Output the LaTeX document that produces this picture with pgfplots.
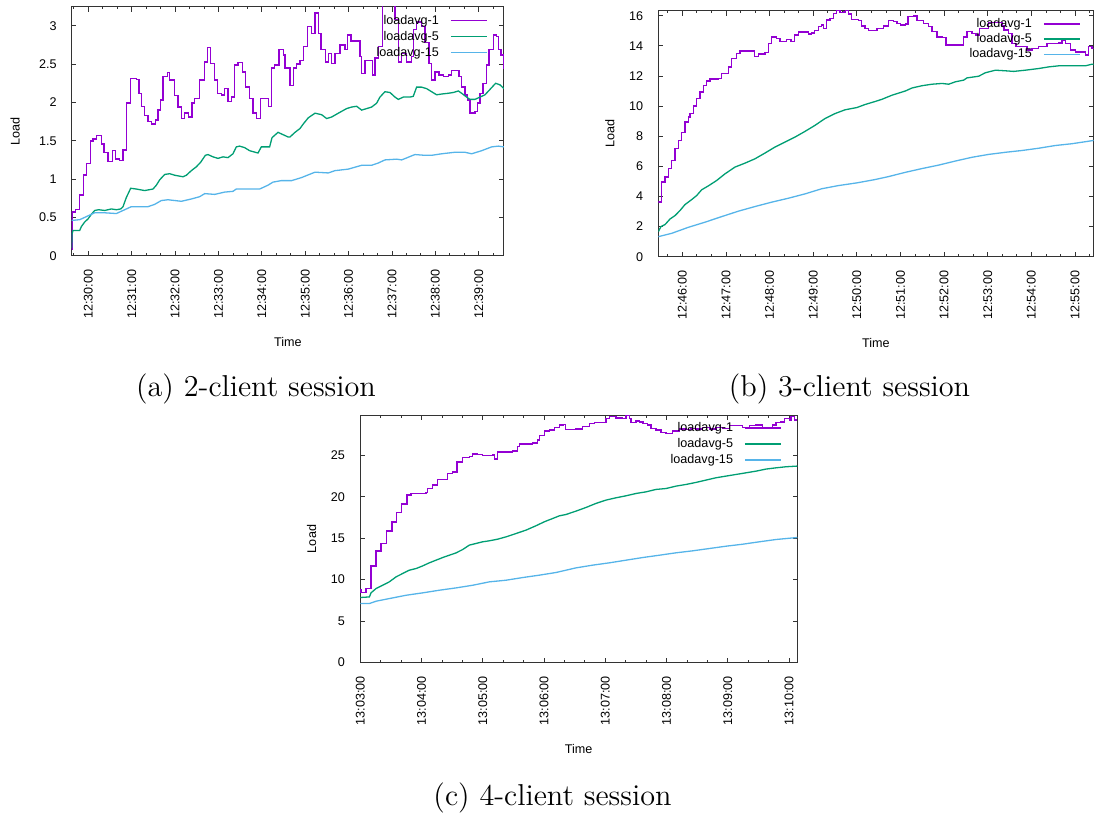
\documentclass[border=0pt]{standalone}
\usepackage{fontspec}
\usepackage{pgfplots}
\pgfplotsset{compat=1.18}
\newfontfamily\gpfam{Liberation Sans}
\newcommand\gpf{\gpfam\fontsize{6.3}{7.5}\selectfont}
\definecolor{gpPurple}{HTML}{9400D3}
\definecolor{gpGreen}{HTML}{009E73}
\definecolor{gpBlue}{HTML}{56B4E9}
\pgfplotsset{
  gp/.style={
    scale only axis,
    axis line style={black!80, line width=0.5pt},
    tick align=inside,
    major tick length=2.3pt,
    minor tick length=1.2pt,
    every tick/.style={black!80, line width=0.4pt},
    tick label style={font=\gpf, text=black},
    /pgf/number format/assume math mode=true,
    xticklabel style={yshift=-3.5pt, rotate=90, anchor=east},
    yticklabel style={xshift=-4pt},
    every axis x label/.style={at={(axis description cs:0.5,0)}, yshift=-43.3pt, anchor=center, font=\gpf},
    xlabel={Time}, ylabel={Load},
    ymin=0,
    legend plot pos=right,
    legend cell align=right,
    legend style={draw=none, fill=none, anchor=north east, font=\gpf,
      nodes={inner sep=0.8pt, text height=4.8pt, text depth=1.4pt},
      row sep=0.2pt, column sep=4.8pt},
    legend image code/.code={\draw[#1] (0pt,0pt) -- (18pt,0pt);},
    p1/.style={gpPurple, line width=0.75pt, const plot, mark=none},
    p5/.style={gpGreen, line width=0.65pt, mark=none},
    p15/.style={gpBlue, line width=0.65pt, mark=none},
  },
  ylab/.style={every axis y label/.style={at={(axis description cs:0,0.5)}, xshift=-#1, rotate=90, anchor=center, font=\gpf}},
}
\begin{document}
\begin{tikzpicture}
\useasboundingbox (0,0) rectangle (547pt,406.5pt);
% ---------------- (a) ----------------
\begin{axis}[gp, ylab=28.3pt,
  at={(35.85pt,278.65pt)}, anchor=south west,
  width=216.15pt, height=124.35pt,
  xmin=-23, xmax=575, ymax=3.246,
  xtick={0,60,...,540},
  xticklabels={12:30:00,12:31:00,12:32:00,12:33:00,12:34:00,12:35:00,12:36:00,12:37:00,12:38:00,12:39:00},
  minor xtick={-20,20,40,80,100,140,160,200,220,260,280,320,340,380,400,440,460,500,520,560},
  ytick={0,0.5,...,3},
  yticklabels={0,0.5,1,1.5,2,2.5,3},
  legend style={at={(0.977,0.994)}},
]
\addplot[p1] coordinates {
(-23,0.08)(-22.5,0.57)(-17.9,0.60)(-11.9,0.79)(-6.4,1.05)(-2.3,1.20)(3.3,1.50)(6.5,1.52)(11.1,1.57)(18,1.46)
(21.7,1.35)(27.2,1.23)(33.2,1.37)(37.8,1.26)(43.4,1.24)(48,1.38)(52.6,1.99)(58.6,2.31)(66.4,2.30)(70.1,2.12)
(73.4,1.95)(77.9,1.83)(82.6,1.75)(87.2,1.72)(92.7,1.77)(96.4,1.90)(100.1,2.03)(103.3,2.34)(109.3,2.39)(112.5,2.29)
(119.5,2.09)(124,1.94)(128.7,1.79)(133.3,1.86)(138.8,1.81)(143.4,1.99)(147.1,2.05)(154,2.29)(161,2.53)(164.6,2.72)
(169.2,2.51)(174.8,2.29)(178.5,2.12)(184,2.10)(188.6,2.18)(193.2,2.01)(197.8,2.07)(202.4,2.49)(207,2.52)(213,2.40)
(217.6,2.20)(223.2,2.05)(227.8,1.86)(232.4,1.79)(237.9,2.05)(249,1.95)(253.7,2.45)(257.8,2.49)(263.8,2.69)(269.7,2.62)
(272,2.45)(279,2.22)(283.5,2.45)(288.2,2.50)(292.8,2.55)(297.4,2.73)(302.9,2.99)(308.9,2.90)(313.6,3.17)(318.1,2.90)
(321.9,2.69)(328.3,2.53)(332,2.64)(336.6,2.51)(341.2,2.64)(348.2,2.75)(355.1,2.69)(358.3,2.88)(363.3,2.80)(369.8,2.80)
(375.8,2.60)(378.1,2.38)(382.7,2.55)(392.9,2.36)(396.6,2.58)(401.2,2.73)(406.7,3.40)(424.2,3.08)(428.8,2.53)(433.4,2.64)
(440.3,2.53)(447.2,2.60)(450,2.95)(454.1,3.05)(461,2.99)(465.6,2.78)(471.2,2.51)(474.8,2.29)(479.4,2.40)(485,2.36)
(491,2.34)(497.9,2.36)(502.4,2.42)(508,2.42)(512.7,2.34)(516.3,2.20)(521,2.10)(524.6,2.03)(527.9,1.86)(534.8,1.88)
(538.5,1.99)(541.7,2.12)(546.3,2.25)(550.9,2.49)(554.2,2.69)(560.2,2.88)(564.8,2.86)(567.1,2.69)(570.8,2.62)(574,2.45)(575,2.45)
};
\addlegendentry{loadavg-1}
\addplot[p5] coordinates {
(-23,0.10)(-22.5,0.28)(-21.2,0.33)(-11.9,0.33)(-9.6,0.38)(-5,0.44)(-0.4,0.48)(4.2,0.54)(8.8,0.59)(14.3,0.60)
(22.6,0.59)(31.9,0.61)(38.8,0.60)(44.8,0.61)(48,0.64)(52.6,0.76)(58.6,0.88)(66.4,0.87)(77.9,0.85)(89.5,0.87)
(94.1,0.92)(98.7,0.99)(105.6,1.06)(112.5,1.07)(119.5,1.05)(131,1.03)(135.6,1.05)(142.5,1.11)(149.4,1.16)(155.4,1.22)
(161.9,1.31)(165.5,1.32)(172.5,1.29)(179.4,1.27)(186.3,1.29)(193.2,1.28)(200.1,1.33)(204.7,1.42)(209.3,1.43)(216.3,1.41)
(223.2,1.37)(234.7,1.34)(239.3,1.42)(250.8,1.42)(254.1,1.54)(262.4,1.61)(269.3,1.58)(276.2,1.55)(279,1.55)(285.9,1.61)
(292.8,1.66)(297.4,1.72)(304.3,1.80)(313.6,1.86)(322.8,1.84)(329.7,1.79)(336.6,1.81)(345.8,1.86)(357.3,1.92)(364.2,1.94)
(371.2,1.95)(378.1,1.90)(385,1.92)(391.9,1.94)(398.8,1.99)(403.4,2.07)(410.3,2.14)(417.3,2.13)(424.2,2.07)(428.8,2.04)
(435.7,2.07)(444.9,2.07)(449.5,2.08)(454.1,2.20)(461,2.20)(468,2.18)(474.9,2.14)(481.8,2.10)(488.7,2.11)(497.9,2.12)
(504.9,2.13)(511.8,2.15)(516.4,2.12)(523.3,2.07)(527.9,2.04)(534.8,2.04)(541.8,2.07)(548.7,2.10)(555.6,2.17)(563.4,2.25)
(569.4,2.23)(575,2.18)
};
\addlegendentry{loadavg-5}
\addplot[p15] coordinates {
(-23,0.46)(-11.9,0.47)(-5,0.50)(4.2,0.54)(8.8,0.56)(22.6,0.56)(38.8,0.55)(45.7,0.58)(52.6,0.61)(59.5,0.64)
(68.7,0.64)(82.6,0.64)(91.8,0.67)(101,0.72)(110.2,0.73)(128.7,0.71)(142.5,0.74)(154,0.77)(161,0.81)(174.8,0.80)
(188.6,0.83)(200.1,0.84)(204.7,0.87)(220.8,0.87)(237,0.87)(248.5,0.92)(255.4,0.96)(267,0.98)(281.3,0.98)(295.1,1.02)
(313.6,1.09)(332,1.08)(341.2,1.11)(359.7,1.13)(378.1,1.18)(391.9,1.18)(401.2,1.21)(410.3,1.25)(426.5,1.26)(433.4,1.25)
(451.8,1.32)(465.6,1.31)(474.8,1.31)(488.7,1.33)(507.1,1.35)(521,1.35)(530.2,1.33)(544,1.37)(557.9,1.42)(567.1,1.43)(575,1.42)
};
\addlegendentry{loadavg-15}
\end{axis}
% ---------------- (b) ----------------
\begin{axis}[gp, ylab=24.2pt,
  at={(329.15pt,278.15pt)}, anchor=south west,
  width=217.6pt, height=122.85pt,
  xmin=-33, xmax=565.4, ymax=16.31,
  xtick={0,60,...,540},
  xticklabels={12:46:00,12:47:00,12:48:00,12:49:00,12:50:00,12:51:00,12:52:00,12:53:00,12:54:00,12:55:00},
  minor xtick={-20,20,40,80,100,140,160,200,220,260,280,320,340,380,400,440,460,500,520,560},
  ytick={0,2,...,16},
  legend style={at={(0.985,0.997)}, row sep=-0.2pt},
]
\addplot[p1] coordinates {
(-33,3.62)(-28.4,4.95)(-23.8,5.28)(-19.2,5.84)(-14.6,6.39)(-10,7.17)(-5.5,7.72)(-0.9,8.23)(3.7,8.94)(8.3,9.28)
(10.6,9.50)(15.2,9.99)(19.8,10.50)(24.3,10.94)(28.9,11.38)(33.5,11.67)(38.1,11.78)(49.6,11.83)(54.1,12.16)(63.3,12.60)
(67.9,13.16)(74.8,13.49)(79.3,13.65)(99,13.30)(104.6,13.45)(113.7,13.56)(118.3,14.16)(122.9,14.60)(129.8,14.50)(134.3,14.27)
(143.5,14.43)(149.5,14.27)(154.1,14.70)(159.6,14.90)(173.3,14.78)(177.9,14.85)(181.6,15.00)(187.1,15.27)(191.7,15.38)(194,15.16)
(198.5,15.71)(203.1,15.82)(207.7,16.16)(212.3,16.38)(216.8,16.20)(221.4,16.25)(224.6,16.38)(228.3,16.11)(232.9,15.76)(242,15.67)
(246.7,15.30)(251.2,15.16)(255.8,15.00)(267.7,15.16)(276.9,15.31)(283.8,15.67)(290.7,15.60)(295.2,15.49)(299.8,15.38)(306.7,15.45)
(310.4,15.93)(318.2,15.98)(322.8,15.67)(331.9,15.49)(338.8,15.27)(343.4,14.94)(350.2,14.60)(357.1,14.55)(362.6,14.05)(386.9,14.60)
(391.5,14.94)(398.4,14.82)(403.9,14.71)(408.5,15.16)(421.3,15.53)(439.7,15.30)(442,15.05)(448.8,14.82)(453.4,14.16)(458.9,13.94)
(474,13.72)(480.9,13.83)(490,13.94)(501.5,14.16)(517.5,14.20)(522.1,14.38)(526.7,14.16)(533.6,13.72)(540.5,13.60)(554.2,13.38)
(558.8,13.94)(563.4,13.83)(566,13.83)
};
\addlegendentry{loadavg-1}
\addplot[p5] coordinates {
(-33,1.66)(-29.3,2.00)(-23.8,2.13)(-16.9,2.50)(-10,2.73)(-3.2,3.06)(3.7,3.46)(12.9,3.79)(19.8,4.06)(26.6,4.44)
(35.8,4.70)(47.3,5.06)(58.7,5.50)(72.5,5.95)(86.2,6.21)(100,6.50)(113.7,6.88)(127.5,7.28)(141.2,7.61)(155,7.94)
(168.8,8.32)(182.5,8.72)(196.2,9.17)(210,9.50)(223.7,9.75)(240,9.90)(251.2,10.10)(265,10.30)(274.6,10.45)(288.3,10.72)
(306.7,11.00)(315.9,11.20)(329.6,11.35)(343.4,11.45)(357.1,11.50)(366.3,11.45)(375.5,11.61)(386.9,11.72)(391.5,11.87)(407.5,11.98)
(416.7,12.21)(430.5,12.38)(444.2,12.34)(455.7,12.30)(471.7,12.38)(490,12.49)(503.8,12.60)(517.5,12.67)(535.9,12.67)(554.2,12.67)
(563.4,12.78)(566,12.76)
};
\addlegendentry{loadavg-5}
\addplot[p15] coordinates {
(-33,1.33)(-14.6,1.55)(8.3,1.95)(31.2,2.29)(54.1,2.66)(77,3.02)(100,3.33)(122.9,3.62)(145.8,3.88)(168.8,4.17)
(191.7,4.51)(214.6,4.72)(240,4.90)(265,5.12)(283.8,5.32)(306.7,5.60)(329.6,5.85)(352.5,6.08)(375.5,6.35)(398.4,6.60)
(421.3,6.79)(444.2,6.93)(467.2,7.05)(490,7.20)(512.9,7.38)(535.9,7.50)(563.4,7.70)(566,7.72)
};
\addlegendentry{loadavg-15}
\end{axis}
% ---------------- (c) ----------------
\begin{axis}[gp, ylab=24.2pt,
  at={(180pt,75.35pt)}, anchor=south west,
  width=218.65pt, height=123.3pt,
  xmin=-0.3, xmax=428.1, ymax=29.8,
  xtick={0,60,...,420},
  xticklabels={13:03:00,13:04:00,13:05:00,13:06:00,13:07:00,13:08:00,13:09:00,13:10:00},
  minor xtick={20,40,80,100,140,160,200,220,260,280,320,340,380,400,440},
  ytick={0,5,...,25},
  legend style={at={(0.979,1.0)}},
]
\addplot[p1] coordinates {
(0,8.71)(0.7,8.43)(5.6,8.91)(10.5,11.65)(15.4,13.47)(20.3,14.35)(25.8,15.88)(31.1,16.98)(35.6,18.10)(40.5,19.11)
(45.8,20.20)(49.7,20.40)(64.4,20.50)(66,21.00)(70.9,21.40)(75.8,22.10)(85.6,22.80)(90.5,23.00)(94.7,24.20)(100.3,24.76)
(106.8,24.85)(110.1,25.20)(115,25.10)(119.9,25.00)(129.7,25.05)(131.3,24.56)(134.6,25.40)(149.3,25.56)(154.2,26.05)(155.8,26.37)
(168.9,26.49)(173.8,26.85)(175.4,27.38)(180.3,27.94)(185.2,28.07)(190.1,28.35)(195,28.67)(198.9,28.75)(200.9,28.15)(211.3,28.19)
(217.9,28.47)(224.4,28.87)(229.3,29.00)(240.7,29.48)(244,29.68)(250.5,29.55)(257,29.48)(260.3,29.80)(263.6,29.48)(265.2,29.00)
(270.1,29.15)(273.5,29.05)(276.7,28.87)(281.5,28.67)(284.8,28.27)(289.7,28.07)(294.6,27.78)(299.5,27.66)(306,27.94)(312.6,28.19)
(319.1,28.11)(324,28.27)(329,28.19)(335.4,28.35)(342,28.19)(348.5,28.40)(355,28.27)(361.5,28.59)(374.6,28.35)(381.1,28.59)
(387.7,28.67)(394.2,28.27)(399.1,28.35)(404,28.67)(407.3,29.00)(412.2,29.05)(415.4,29.48)(420.3,29.27)(422,29.68)(425.2,29.27)(428.1,29.27)
};
\addlegendentry{loadavg-1}
\addplot[p5] coordinates {
(0,7.83)(8.9,7.90)(10.5,8.39)(15.4,8.91)(21.9,9.31)(28.4,9.72)(35,10.32)(41.5,10.73)(48,11.13)(54.6,11.33)
(61.1,11.65)(67.6,12.02)(74.2,12.34)(80.7,12.66)(87.2,12.94)(93.8,13.22)(100.3,13.63)(106.8,14.16)(113.4,14.36)(119.9,14.56)
(126.4,14.68)(134.6,14.88)(142.8,15.16)(152.5,15.56)(162.3,15.97)(172.1,16.50)(180.3,16.98)(188.5,17.38)(195,17.70)(201.5,17.86)
(211.3,18.27)(221.1,18.71)(230.9,19.20)(240.7,19.60)(250.5,19.88)(260.3,20.12)(270.1,20.40)(280,20.60)(289.7,20.89)(299.5,21.00)
(309.3,21.29)(319.1,21.49)(329,21.74)(338.7,22.02)(348.5,22.30)(358.3,22.50)(368.1,22.70)(378,22.90)(387.7,23.10)(397.5,23.35)
(407.3,23.50)(417.1,23.63)(428.1,23.71)
};
\addlegendentry{loadavg-5}
\addplot[p15] coordinates {
(0,7.10)(8.9,7.10)(15.4,7.38)(28.4,7.70)(44.8,8.10)(61.1,8.39)(77.4,8.71)(93.8,8.99)(110.1,9.31)(126.4,9.72)
(142.8,9.92)(159.1,10.24)(175.4,10.53)(191.7,10.85)(211.3,11.41)(227.7,11.74)(244,12.02)(260.3,12.34)(276.7,12.66)(293,12.94)
(309.3,13.23)(325.6,13.47)(342,13.75)(358.3,14.03)(374.6,14.27)(390.9,14.56)(407.3,14.84)(428.1,15.08)
};
\addlegendentry{loadavg-15}
\end{axis}
% captions
\node[anchor=base, scale=1.035, font=\fontsize{14.6}{17}\selectfont] at (128pt,208pt) {(a) 2-client session};
\node[anchor=base, scale=1.035, font=\fontsize{14.6}{17}\selectfont] at (424.75pt,208pt) {(b) 3-client session};
\node[anchor=base, scale=1.035, font=\fontsize{14.6}{17}\selectfont] at (276.25pt,3.6pt) {(c) 4-client session};
\end{tikzpicture}
\end{document}
